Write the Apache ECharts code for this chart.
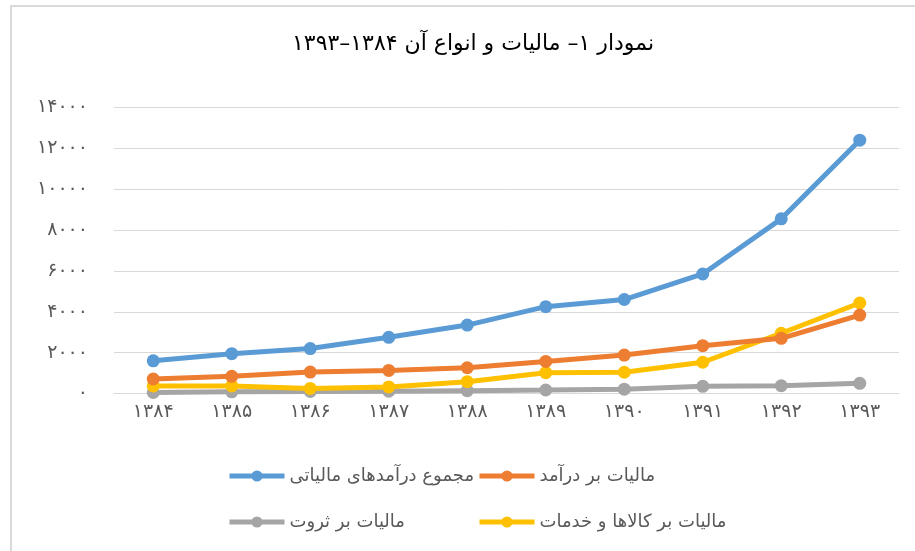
<!DOCTYPE html>
<html>
<head>
<meta charset="utf-8">
<script src="https://cdn.jsdelivr.net/npm/echarts@6/dist/echarts.min.js"></script>
<style>html,body{margin:0;padding:0;background:#fff}#c{width:915px;height:551px}</style>
</head>
<body>
<div id="c"></div>
<script>
const categories = ['1384','1385','1386','1387','1388','1389','1390','1391','1392','1393'];
const totalTax = [1600, 1950, 2200, 2750, 3350, 4250, 4600, 5850, 8550, 12400];
const incomeTax = [710, 840, 1050, 1130, 1260, 1570, 1880, 2340, 2700, 3840];
const wealthTax = [50, 80, 100, 110, 140, 170, 210, 350, 380, 500];
const goodsTax = [370, 370, 250, 320, 580, 1020, 1040, 1530, 2950, 4430];
const seriesNames = ['مجموع درآمدهای مالیاتی', 'مالیات بر درآمد', 'مالیات بر ثروت', 'مالیات بر کالاها و خدمات'];
const titleText = 'نمودار ۱– مالیات و انواع آن ۱۳۸۴–۱۳۹۳';

const fa = s => String(s).replace(/[0-9]/g, d => '۰۱۲۳۴۵۶۷۸۹'[d]);
const FONT = '"DejaVu Sans", "Noto Sans", sans-serif';
const colors = ['#5b9bd5', '#ed7d31', '#a5a5a5', '#ffc000'];
const dataArr = [totalTax, incomeTax, wealthTax, goodsTax];

const chart = echarts.init(document.getElementById('c'));
const legendPos = [[227, 467], [477, 467], [227, 513], [477, 513]];
chart.setOption({
  animation: false,
  backgroundColor: '#fff',
  graphic: [{ type: 'rect', shape: { x: 11, y: 6, width: 1000, height: 1000 }, style: { fill: 'none', stroke: '#d9d9d9', lineWidth: 2 }, silent: true }],
  title: { text: titleText, left: 292, top: 33, padding: 0, textStyle: { fontFamily: FONT, fontSize: 22, fontWeight: 'normal', color: '#000' } },
  legend: seriesNames.map((n, i) => ({
    data: [n], left: legendPos[i][0], top: legendPos[i][1], padding: 0, itemWidth: 55, itemHeight: 14, itemGap: 5,
    lineStyle: { width: 5 },
    textStyle: { fontFamily: FONT, fontSize: 18, color: '#595959' }
  })),
  grid: { left: 114, right: 16, top: 107.5, bottom: 157.5, containLabel: false },
  xAxis: {
    type: 'category', data: categories, boundaryGap: true,
    axisLine: { show: true, lineStyle: { color: '#d9d9d9', width: 1 } },
    axisTick: { show: false },
    axisLabel: { formatter: v => fa(v), fontFamily: FONT, fontSize: 19, color: '#595959', margin: 9 }
  },
  yAxis: {
    type: 'value', min: 0, max: 14000, interval: 2000,
    axisLine: { show: false }, axisTick: { show: false },
    splitLine: { lineStyle: { color: '#d9d9d9', width: 1 } },
    axisLabel: { formatter: v => fa(v), fontFamily: FONT, fontSize: 19, color: '#595959', margin: 26 }
  },
  series: seriesNames.map((n, i) => ({
    name: n, type: 'line', data: dataArr[i],
    symbol: 'circle', symbolSize: 13, z: [4, 3, 1, 2][i],
    lineStyle: { width: 5, color: colors[i] }, itemStyle: { color: colors[i] }
  }))
});
</script>
</body>
</html>
